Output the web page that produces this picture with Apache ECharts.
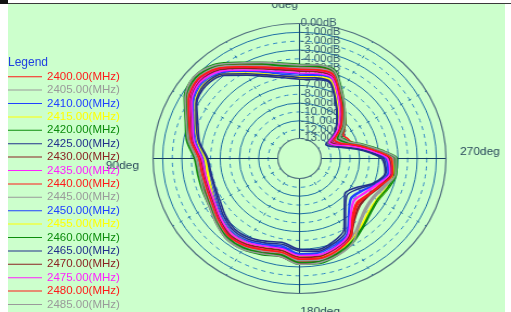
<!DOCTYPE html>
<html><head><meta charset="utf-8">
<script src="https://cdn.jsdelivr.net/npm/echarts@6/dist/echarts.min.js"></script>
<style>
html,body{margin:0;padding:0;background:#fff;width:511px;height:312px;overflow:hidden;}
#bg{position:absolute;left:8px;top:4px;width:497px;height:308px;background:#ccffcc;}
#polar{position:absolute;left:0;top:0;width:511px;height:312px;transform-origin:299.5px 158.5px;transform:scaleX(1.085);}
#legend{position:absolute;left:0;top:0;width:511px;height:312px;}
#bar{position:absolute;left:0;top:0;width:511px;height:3px;background:#fff;border-bottom:1px solid #3a3a3a;}
#blk{position:absolute;left:0;top:0;width:8px;height:4px;background:#111;}
</style></head><body>
<div id="bg"></div><div id="polar"></div><div id="legend"></div><div id="bar"></div><div id="blk"></div>
<script>
// angle (deg, counter-clockwise from top) at which every curve is sampled
const angles = [0,10,20,30,40,50,60,70,80,90,100,110,120,130,140,150,160,170,180,190,200,210,220,230,240,250,260,270,275,280,285,290,295,300,305,310,320,330,340,350];
const freqs = [2400,2405,2410,2415,2420,2425,2430,2435,2440,2445,2450,2455,2460,2465,2470,2475,2480,2485];
const colors = ['#ff1a1a','#9a9a9a','#2040ff','#ffff00','#0c8c0c','#22308c','#8a2222','#ff20ff','#ff1a1a','#9a9a9a','#2040ff','#ffff00','#0c8c0c','#22308c','#8a2222','#ff20ff','#ff1a1a','#9a9a9a'];
const dbTicks = [-13,-12,-11,-10,-9,-8,-7,-6,-5,-4,-3,-2,-1,0];
const angleTicks = [0,90,180,270];

const s2400 = [-4.9,-4.6,-4.0,-3.0,-1.7,-1.2,-1.7,-2.8,-3.6,-4.6,-4.8,-4.8,-4.6,-4.1,-3.6,-3.6,-4.0,-4.3,-3.6,-3.5,-3.9,-4.5,-6.6,-7.4,-7.0,-6.3,-5.2,-5.4,-6.6,-7.9,-9.0,-9.6,-9.8,-10.0,-9.6,-9.0,-8.1,-6.7,-4.9,-4.8];
const s2405 = [-4.8,-4.5,-3.8,-2.8,-1.6,-1.0,-1.5,-2.7,-3.4,-4.4,-4.6,-4.6,-4.5,-4.0,-3.5,-3.5,-3.9,-4.1,-3.4,-3.4,-3.7,-4.3,-5.6,-6.3,-6.4,-5.9,-5.1,-5.3,-6.5,-7.8,-8.9,-9.9,-10.3,-10.5,-9.9,-9.2,-8.0,-6.5,-4.8,-4.6];
const s2410 = [-5.9,-5.6,-4.9,-3.9,-2.6,-2.1,-2.5,-3.6,-4.4,-5.4,-5.6,-5.6,-5.3,-4.8,-4.4,-4.5,-4.9,-5.2,-4.5,-4.4,-4.8,-5.4,-7.3,-8.3,-7.9,-6.8,-5.9,-6.3,-7.5,-8.8,-10.1,-11.1,-11.7,-11.9,-11.1,-10.2,-8.9,-7.5,-5.7,-5.7];
const s2415 = [-6.2,-5.9,-5.3,-4.3,-2.9,-2.4,-2.8,-3.9,-4.6,-5.5,-5.6,-5.5,-5.2,-4.7,-4.3,-4.3,-4.6,-4.8,-4.2,-4.0,-4.2,-4.6,-5.3,-5.9,-6.0,-5.6,-5.4,-5.9,-7.3,-8.8,-10.1,-11.0,-11.6,-11.8,-11.2,-10.3,-9.0,-7.6,-5.9,-6.0];
const s2420 = [-4.6,-4.3,-3.7,-2.7,-1.4,-0.9,-1.4,-2.6,-3.3,-4.3,-4.5,-4.5,-4.4,-3.9,-3.4,-3.4,-3.7,-4.0,-3.3,-3.2,-3.6,-4.2,-5.0,-5.6,-5.8,-5.4,-5.0,-5.1,-6.3,-7.6,-8.7,-9.7,-10.1,-10.3,-9.7,-9.0,-7.9,-6.4,-4.6,-4.5];
const s2425 = [-6.3,-6.0,-5.4,-4.4,-3.0,-2.5,-2.9,-4.0,-4.7,-5.7,-5.9,-5.9,-5.7,-5.2,-4.8,-4.9,-5.3,-5.6,-5.0,-4.8,-5.2,-6.0,-8.0,-9.1,-8.6,-7.1,-6.2,-6.7,-7.9,-9.2,-10.5,-11.4,-11.9,-12.1,-11.3,-10.4,-9.2,-7.8,-6.1,-6.2];
const s2430 = [-5.3,-5.0,-4.3,-3.3,-2.0,-1.5,-2.0,-3.1,-3.9,-4.9,-5.1,-5.1,-4.9,-4.4,-3.9,-3.8,-4.1,-4.0,-3.4,-3.5,-4.1,-4.8,-6.3,-7.0,-6.9,-6.2,-5.5,-5.7,-6.9,-8.2,-9.4,-10.5,-11.1,-11.3,-10.5,-9.6,-8.4,-7.0,-5.2,-5.1];
const s2435 = [-5.4,-5.1,-4.4,-3.4,-2.1,-1.6,-2.1,-3.2,-3.9,-4.9,-5.1,-5.1,-4.9,-4.4,-4.0,-4.0,-4.4,-4.7,-4.0,-3.9,-4.3,-4.9,-6.9,-7.8,-7.4,-6.6,-5.5,-5.8,-7.0,-8.3,-9.5,-10.6,-11.2,-11.4,-10.6,-9.7,-8.5,-7.0,-5.3,-5.2];
const s2440 = [-5.1,-4.8,-4.2,-3.2,-1.9,-1.3,-1.9,-3.0,-3.7,-4.7,-4.9,-4.9,-4.7,-4.2,-3.8,-3.8,-4.2,-4.4,-3.8,-3.7,-4.0,-4.7,-6.7,-7.5,-7.1,-6.4,-5.4,-5.6,-6.8,-8.1,-9.2,-10.3,-10.8,-11.0,-10.3,-9.5,-8.3,-6.8,-5.1,-5.0];
const s2445 = [-5.0,-4.7,-4.1,-3.1,-1.8,-1.2,-1.8,-2.9,-3.6,-4.6,-4.8,-4.9,-4.7,-4.2,-3.7,-3.7,-4.1,-4.4,-3.7,-3.6,-4.0,-4.6,-5.7,-6.4,-6.5,-6.0,-5.3,-5.5,-6.7,-8.0,-9.1,-10.2,-10.7,-10.9,-10.2,-9.4,-8.2,-6.8,-5.0,-4.9];
const s2450 = [-5.7,-5.4,-4.8,-3.8,-2.4,-1.9,-2.4,-3.5,-4.2,-5.2,-5.4,-5.4,-5.2,-4.7,-4.3,-4.3,-4.7,-5.0,-4.4,-4.2,-4.6,-5.3,-7.2,-8.2,-7.8,-6.8,-5.8,-6.1,-7.3,-8.6,-9.9,-10.9,-11.5,-11.7,-11.0,-10.0,-8.8,-7.3,-5.6,-5.6];
const s2455 = [-6.0,-5.8,-5.1,-4.1,-2.8,-2.2,-2.7,-3.7,-4.5,-5.4,-5.5,-5.4,-5.1,-4.6,-4.2,-4.2,-4.5,-4.7,-4.1,-3.9,-4.1,-4.5,-5.2,-5.8,-5.9,-5.5,-5.3,-5.8,-7.2,-8.6,-9.9,-11.1,-11.6,-11.8,-11.1,-10.2,-8.9,-7.5,-5.8,-5.9];
const s2460 = [-4.8,-4.6,-3.9,-2.9,-1.6,-1.1,-1.6,-2.8,-3.5,-4.5,-4.7,-4.7,-4.5,-4.0,-3.6,-3.6,-3.9,-4.2,-3.5,-3.4,-3.8,-4.4,-5.1,-5.7,-5.9,-5.5,-5.2,-5.3,-6.5,-7.8,-9.0,-10.0,-10.5,-10.7,-10.0,-9.2,-8.1,-6.6,-4.8,-4.7];
const s2465 = [-6.1,-5.8,-5.2,-4.2,-2.8,-2.3,-2.8,-3.8,-4.6,-5.6,-5.8,-5.8,-5.5,-5.0,-4.6,-4.7,-5.1,-5.4,-4.8,-4.6,-5.0,-5.7,-7.8,-8.8,-8.3,-7.0,-6.1,-6.5,-7.7,-9.0,-10.3,-11.2,-11.6,-11.8,-11.1,-10.3,-9.1,-7.7,-6.0,-6.0];
const s2470 = [-5.4,-5.1,-4.5,-3.5,-2.2,-1.7,-2.2,-3.3,-4.0,-5.0,-5.2,-5.2,-5.0,-4.5,-4.0,-4.1,-4.5,-4.7,-4.1,-4.0,-4.4,-5.0,-6.4,-7.1,-7.0,-6.3,-5.6,-5.9,-7.1,-8.4,-9.6,-10.7,-11.3,-11.5,-10.7,-9.8,-8.6,-7.1,-5.4,-5.3];
const s2475 = [-5.6,-5.3,-4.7,-3.7,-2.4,-1.8,-2.3,-3.4,-4.1,-5.1,-5.3,-5.3,-5.1,-4.6,-4.2,-4.3,-4.7,-4.9,-4.3,-4.2,-4.5,-5.2,-7.0,-7.9,-7.5,-6.7,-5.7,-6.1,-7.3,-8.6,-9.8,-10.9,-11.5,-11.7,-10.9,-10.0,-8.7,-7.2,-5.5,-5.5];
const s2480 = [-5.2,-4.9,-4.3,-3.3,-2.0,-1.4,-1.9,-3.0,-3.8,-4.8,-5.0,-5.0,-4.8,-4.3,-3.8,-3.9,-4.3,-4.5,-3.9,-3.8,-4.1,-4.8,-6.5,-7.3,-7.0,-6.3,-5.4,-5.7,-6.9,-8.2,-9.3,-10.4,-10.9,-11.1,-10.4,-9.6,-8.3,-6.9,-5.1,-5.1];
const s2485 = [-4.7,-4.4,-3.7,-2.8,-1.5,-0.9,-1.5,-2.7,-3.5,-4.5,-4.7,-4.6,-4.4,-3.9,-3.4,-3.4,-3.8,-4.0,-3.3,-3.3,-3.6,-4.2,-5.5,-6.2,-6.3,-5.8,-5.1,-5.2,-6.4,-7.7,-8.8,-9.8,-10.2,-10.4,-9.8,-9.1,-7.9,-6.5,-4.7,-4.5];

const values = [s2400,s2405,s2410,s2415,s2420,s2425,s2430,s2435,s2440,s2445,s2450,s2455,s2460,s2465,s2470,s2475,s2480,s2485];
const names = freqs.map(f => f.toFixed(2) + '(MHz)');

const FONT = '"Liberation Sans", Arial, sans-serif';
const T = 'rgba(0,0,0,0)';
const solidC = '#1d6fa5', dashC = '#2f88c6', rimC = '#4f6f7f', axisC = '#143e62', dbLabC = '#3a5d70';
// per-circle colours: odd dB circles solid, even dB circles dashed
const dashColors = dbTicks.map(d => (Math.abs(d) % 2 === 0 && d !== 0) ? dashC : T);
const solidColors = dbTicks.map(d => (Math.abs(d) % 2 === 1 && d !== -13) ? solidC : T);
const dbLabel = (v, odd) => (Math.abs(Math.round(v)) % 2 === (odd ? 1 : 0)) ? v.toFixed(2) + 'dB' : '';
const dbLabelStyle = odd => ({show: true, margin: -1, align: 'left', fontSize: 10.5, fontFamily: FONT, color: dbLabC,
  showMinLabel: true, showMaxLabel: true, hideOverlap: false, formatter: v => dbLabel(v, odd)});

const CENTER = [299.5, 158.5], RADIUS = [20, 135];

const polarChart = echarts.init(document.getElementById('polar'), null, {renderer: 'canvas'});
polarChart.setOption({
  animation: false,
  polar: [{center: CENTER, radius: RADIUS}, {center: CENTER, radius: RADIUS}],
  angleAxis: [{
    polarIndex: 0, type: 'value', min: 0, max: 360, interval: 90, startAngle: 90, clockwise: false,
    axisLine: {show: true, lineStyle: {color: rimC, width: 1.2}},
    axisTick: {show: false},
    axisLabel: {
      show: true, margin: 13, fontSize: 11, fontFamily: FONT, color: '#2b4a5c',
      formatter: v => angleTicks.indexOf(v) >= 0 ? '{a' + v + '|' + v + 'deg}' : '',
      rich: {
        a0: {fontSize: 11, fontFamily: FONT, color: '#2b4a5c', padding: [0, 27, 0, 0]},
        a90: {fontSize: 11, fontFamily: FONT, color: '#2b4a5c', padding: [15, 0, 0, 0]},
        a180: {fontSize: 11, fontFamily: FONT, color: '#2b4a5c', padding: [0, 0, 0, 38]},
        a270: {fontSize: 11, fontFamily: FONT, color: '#2b4a5c', padding: [0, 0, 13, 0]}
      }
    },
    splitLine: {show: true, lineStyle: {color: axisC, width: 1}},
    minorTick: {show: false, splitNumber: 3},
    minorSplitLine: {show: true, lineStyle: {color: solidC, width: 1, type: [3, 5.846], dashOffset: 1.5}}
  }, {
    polarIndex: 1, type: 'value', min: 0, max: 360, startAngle: 90, clockwise: false, show: false
  }],
  radiusAxis: [{
    polarIndex: 0, type: 'value', min: -13, max: 0, interval: 1,
    axisLine: {show: true, lineStyle: {color: axisC, width: 1}},
    axisTick: {show: false},
    axisLabel: dbLabelStyle(false),
    splitLine: {show: true, lineStyle: {color: dashColors, type: [4, 4], width: 1}}
  }, {
    polarIndex: 1, type: 'value', min: -13, max: 0, interval: 1,
    axisLine: {show: false}, axisTick: {show: false},
    axisLabel: dbLabelStyle(true),
    splitLine: {show: true, lineStyle: {color: solidColors, width: 1}}
  }],
  series: values.map((vals, i) => ({
    type: 'line', coordinateSystem: 'polar', polarIndex: 0, name: names[i],
    data: angles.map((a, j) => [vals[j], a]).concat([[vals[0], 360]]),
    symbol: 'none', smooth: 0.3, z: 3,
    lineStyle: {color: colors[i], width: 1.6},
    itemStyle: {color: colors[i]}
  }))
});

const legendChart = echarts.init(document.getElementById('legend'), null, {renderer: 'canvas'});
legendChart.setOption({
  animation: false,
  title: {text: 'Legend', left: 8, top: 57, padding: 0,
    textStyle: {fontSize: 12, fontWeight: 'normal', color: '#1f3fe0', fontFamily: FONT}},
  legend: {
    orient: 'vertical', left: 8, top: 70, padding: 0, itemWidth: 34, itemHeight: 1, itemGap: 0,
    icon: 'rect', selectedMode: false,
    textStyle: {fontSize: 11.5, fontFamily: FONT, lineHeight: 13.4},
    data: names.map((n, i) => ({name: n, textStyle: {color: colors[i]}}))
  },
  grid: {left: 0, top: 0, width: 1, height: 1, show: false},
  xAxis: {show: false, type: 'value'},
  yAxis: {show: false, type: 'value'},
  series: names.map((n, i) => ({
    type: 'line', name: n, data: [], symbol: 'none',
    lineStyle: {color: colors[i], width: 1}, itemStyle: {color: colors[i]}
  }))
});
</script></body></html>
